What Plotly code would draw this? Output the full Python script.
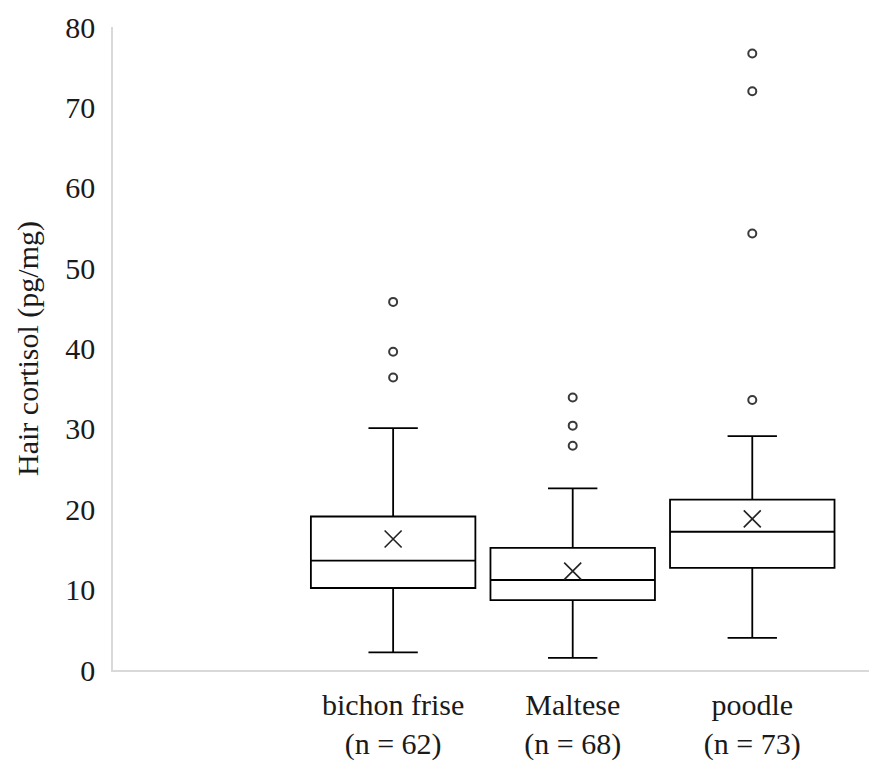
import plotly.graph_objects as go

# ---- data ----
categories = [" ", "bichon frise<br>(n = 62)", "Maltese<br>(n = 68)", "poodle<br>(n = 73)"]
breeds = categories[1:]
q1 = [10.2, 8.7, 12.7]
median = [13.6, 11.2, 17.2]
q3 = [19.1, 15.2, 21.2]
lower_whisker = [2.2, 1.5, 4.0]
upper_whisker = [30.1, 22.6, 29.1]
means = [16.3, 12.3, 18.8]
outliers = [
    [45.8, 39.6, 36.4],
    [33.9, 30.4, 27.9],
    [76.7, 72.0, 54.3, 33.6],
]
y_ticks = [0, 10, 20, 30, 40, 50, 60, 70, 80]

FONT = "Liberation Serif, Times New Roman, serif"

fig = go.Figure()

for i, b in enumerate(breeds):
    fig.add_trace(go.Box(
        x=[b],
        q1=[q1[i]], median=[median[i]], q3=[q3[i]],
        lowerfence=[lower_whisker[i]], upperfence=[upper_whisker[i]],
        width=0.916, whiskerwidth=0.30,
        fillcolor="white",
        line=dict(color="black", width=1.8),
        boxpoints=False, showlegend=False, hoverinfo="skip",
    ))
    fig.add_trace(go.Scatter(
        x=[b] * len(outliers[i]), y=outliers[i], mode="markers",
        marker=dict(symbol="circle-open", size=8, color="#3a3a3a",
                    line=dict(width=2, color="#3a3a3a")),
        showlegend=False, hoverinfo="skip",
    ))
    fig.add_trace(go.Scatter(
        x=[b], y=[means[i]], mode="markers",
        marker=dict(symbol="x-thin", size=17, color="#222222",
                    line=dict(width=1.6, color="#222222")),
        showlegend=False, hoverinfo="skip",
    ))

fig.update_layout(
    width=869, height=765,
    margin=dict(l=113, r=0, t=27, b=95),
    paper_bgcolor="white", plot_bgcolor="white",
    font=dict(family=FONT, size=30, color="#1a1a1a"),
    xaxis=dict(
        type="category", categoryorder="array", categoryarray=categories,
        range=[-0.56, 3.65], automargin=False,
        showline=True, linecolor="#d9d9d9", linewidth=1.5,
        showgrid=False, zeroline=False, ticks="",
        ticklabelstandoff=7,
        tickfont=dict(family=FONT, size=30, color="#1a1a1a"),
    ),
    yaxis=dict(
        range=[0, 80], tickvals=y_ticks, automargin=False,
        showline=True, linecolor="#d9d9d9", linewidth=1.5,
        showgrid=False, zeroline=False, ticks="",
        ticklabelstandoff=10,
        tickfont=dict(family=FONT, size=30, color="#1a1a1a"),
        title=dict(text="Hair cortisol (pg/mg)", standoff=18,
                   font=dict(family=FONT, size=30, color="#1a1a1a")),
    ),
)

fig.write_html(
    "out.html",
    config={"displayModeBar": False},
    post_script="document.body.style.margin='0';document.body.style.overflow='hidden';",
)
